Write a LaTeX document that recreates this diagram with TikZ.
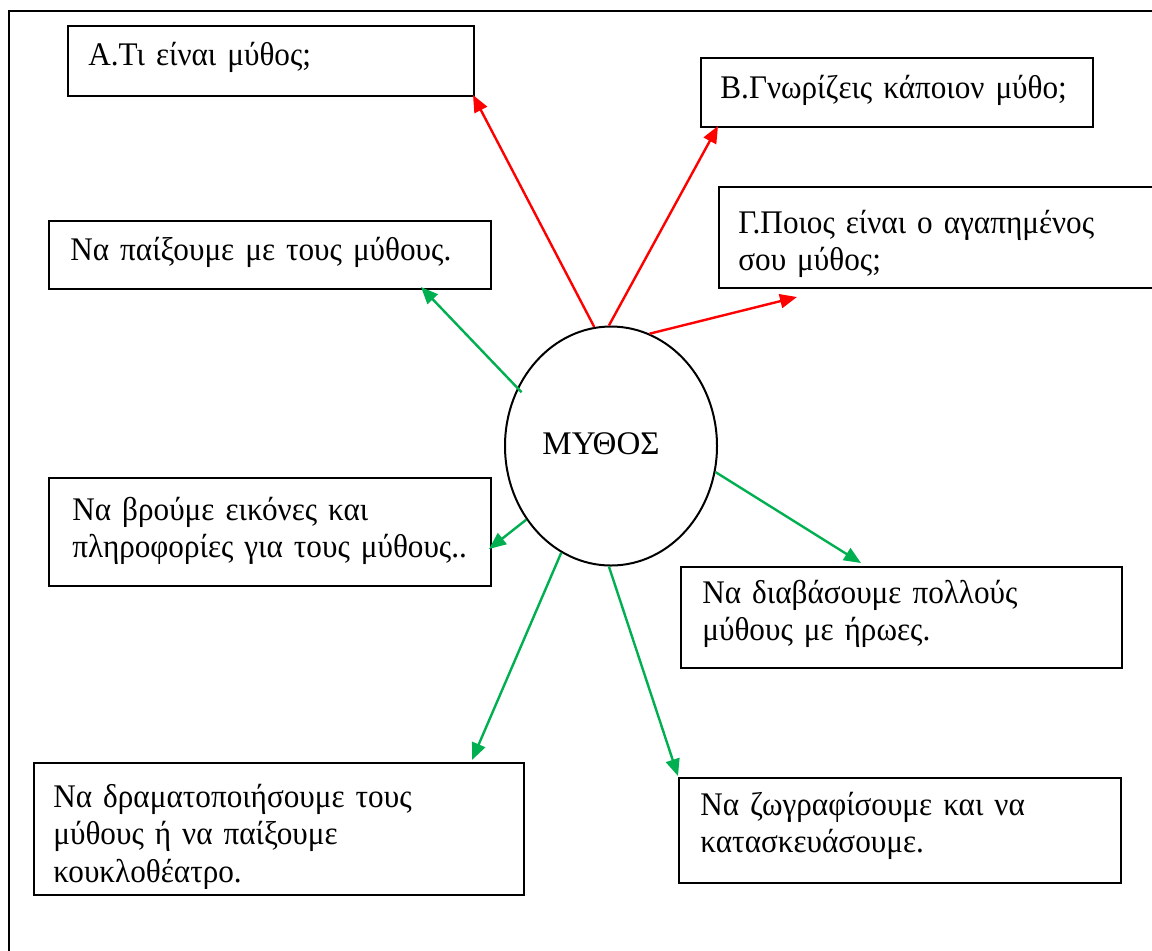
\documentclass[tikz,border=0pt]{standalone}
\usepackage{fontspec}
\setmainfont{Liberation Serif}
\newfontfamily\boxfont[FakeStretch=0.945]{Liberation Serif}
\usetikzlibrary{arrows.meta,shapes.geometric}
\definecolor{myred}{HTML}{FF0000}
\definecolor{mygreen}{HTML}{00B050}
\begin{document}
\begin{tikzpicture}[x=0.5pt,y=-0.5pt,
  box/.style={draw, line width=1pt, anchor=north west, inner sep=0pt},
  txt/.style={anchor=base west, inner sep=0pt, align=left, text width=240pt,
    font=\boxfont\fontsize{16.5pt}{18.8pt}\selectfont},
  redarr/.style={draw=myred, line width=1.2pt, -{Triangle[length=8.5pt,width=7pt]}},
  greenarr/.style={draw=mygreen, line width=1.2pt, -{Triangle[length=8.5pt,width=7pt]}}
]
\useasboundingbox (0,0) rectangle (1152,950);
\clip (0,0) rectangle (1152,950);
\draw[line width=1pt] (9,11) rectangle (1175,975);

% boxes
\node[box, minimum width=203pt, minimum height=35pt] (A) at (67,25) {};
\node[box, minimum width=196pt, minimum height=34.5pt] (B) at (700,57) {};
\node[box, minimum width=226pt, minimum height=50.5pt] (G) at (718,186) {};
\node[box, minimum width=221pt, minimum height=34pt] (P) at (48,220) {};
\node[box, minimum width=221pt, minimum height=54pt] (E) at (48,477) {};
\node[box, minimum width=220.5pt, minimum height=50.5pt] (D) at (680,566) {};
\node[box, minimum width=245pt, minimum height=66pt] (R) at (33,762) {};
\node[box, minimum width=221pt, minimum height=52.5pt] (Z) at (678,777) {};

% texts
\node[txt] (At) at (88,65) {Α.Τι είναι μύθος;};
\node[txt] (Bt) at (720,98) {Β.Γνωρίζεις κάποιον μύθο;};
\node[txt] (Gt) at (738,233) {Γ.Ποιος είναι ο αγαπημένος\\σου μύθος;};
\node[txt] (Pt) at (70,260) {Να παίξουμε με τους μύθους.};
\node[txt] (Et) at (72,520) {Να βρούμε εικόνες και\\πληροφορίες για τους μύθους..};
\node[txt] (Dt) at (702,603) {Να διαβάσουμε πολλούς\\μύθους με ήρωες.};
\node[txt] (Rt) at (53,807) {Να δραματοποιήσουμε τους\\μύθους ή να παίξουμε\\κουκλοθέατρο.};
\node[txt] (Zt) at (700,815) {Να ζωγραφίσουμε και να\\κατασκευάσουμε.};

% centre
\node[draw, ellipse, line width=1pt, minimum width=106pt, minimum height=119.5pt, inner sep=0pt] (M) at (611,446) {};
\node[anchor=base, inner sep=0pt, font=\fontsize{16.5pt}{18.8pt}\selectfont] (Mt) at (601,454) {ΜΥΘΟΣ};

% arrow tips
\coordinate (t1) at (473,95);
\coordinate (t2) at (718,126);
\coordinate (t3) at (797,297);
\coordinate (t4) at (421,287);
\coordinate (t5) at (489,549);
\coordinate (t6) at (861,563);
\coordinate (t7) at (472,760);
\coordinate (t8) at (678,776);

\draw[redarr] (M.98.7) -- (t1);
\draw[redarr] (M.91.4) -- (t2);
\draw[redarr] (M.71.7) -- (t3);
\draw[greenarr] ([shift={(5,3)}]M.149) -- (t4);
\draw[greenarr] (M.221.5) -- (t5);
\draw[greenarr] (M.-14.4) -- (t6);
\draw[greenarr] (M.245.2) -- (t7);
\draw[greenarr] (M.269) -- (t8);
\end{tikzpicture}
\end{document}
